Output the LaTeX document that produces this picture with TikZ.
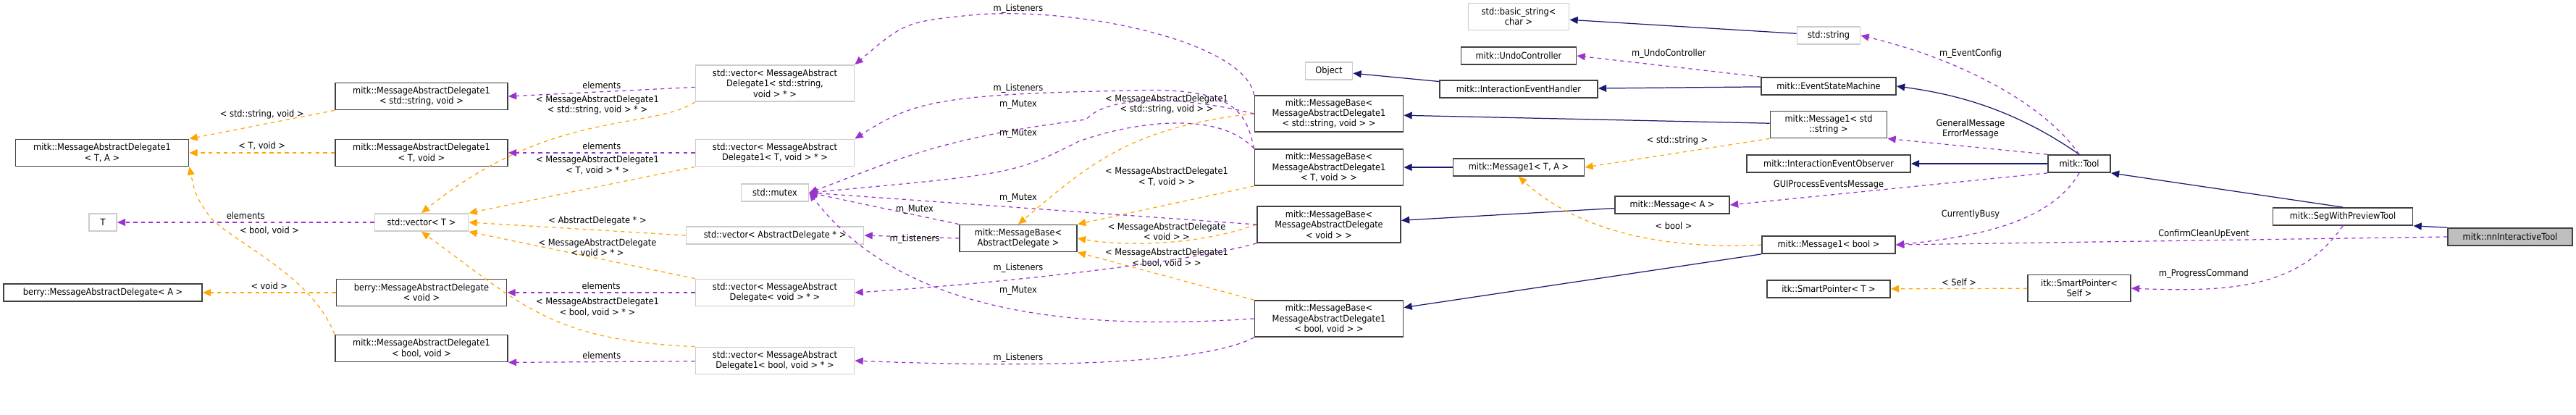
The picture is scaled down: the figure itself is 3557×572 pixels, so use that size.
\documentclass[tikz,border=0pt]{standalone}
\usepackage{fontspec}
\setmainfont{DejaVu Sans Condensed}
\usetikzlibrary{arrows.meta}
\definecolor{inh}{HTML}{191970}
\definecolor{use}{HTML}{9A32CD}
\definecolor{tpl}{HTML}{FFA500}
\tikzset{
  cls/.style={draw=black!75, line width=0.5pt, fill=white, align=center, inner sep=0pt,
    font=\fontsize{3.6}{4.1}\selectfont, minimum height=0.24cm},
  ext/.style={cls, draw=black!20},
  two/.style={minimum height=0.37cm},
  three/.style={minimum height=0.5cm},
  lbl/.style={align=center, inner sep=0pt, text=black, font=\fontsize{3.6}{4.1}\selectfont},
  tip/.style={-{Triangle[length=3.2pt,width=2.8pt]}},
  isa/.style={tip, draw=inh, color=inh, line width=0.35pt},
  has/.style={tip, draw=use, color=use, line width=0.35pt, dash pattern=on 1.5pt off 1.5pt},
  tmpl/.style={tip, draw=tpl, color=tpl, line width=0.35pt, dash pattern=on 1.5pt off 1.5pt},
}
\begin{document}
\begin{tikzpicture}[x=0.01cm, y=0.01cm]
\useasboundingbox (0,0) rectangle (3557,-572);
% left column
\node[cls, two, minimum width=2.39cm] (madTA) at (141,-211) {mitk::MessageAbstractDelegate1\\< T, A >};
\node[ext, minimum width=0.38cm] (T) at (142,-307) {T};
\node[cls, minimum width=2.74cm] (bmadA) at (142,-404) {berry::MessageAbstractDelegate< A >};
\node[cls, two, minimum width=2.38cm] (madStr) at (582,-133) {mitk::MessageAbstractDelegate1\\< std::string, void >};
\node[cls, two, minimum width=2.38cm] (madTv) at (582,-211) {mitk::MessageAbstractDelegate1\\< T, void >};
\node[ext, minimum width=1.29cm] (vecT) at (582,-307) {std::vector< T >};
\node[cls, two, minimum width=2.35cm] (bmadV) at (582,-404) {berry::MessageAbstractDelegate\\< void >};
\node[cls, two, minimum width=2.38cm] (madBool) at (582,-481) {mitk::MessageAbstractDelegate1\\< bool, void >};
% vectors
\node[ext, three, minimum width=2.19cm] (vecStr) at (1070,-115) {std::vector< MessageAbstract\\Delegate1< std::string,\\void > * >};
\node[ext, two, minimum width=2.19cm] (vecTv) at (1070,-211) {std::vector< MessageAbstract\\Delegate1< T, void > * >};
\node[ext, minimum width=0.93cm] (mutex) at (1070,-266) {std::mutex};
\node[ext, minimum width=2.45cm] (vecAD) at (1070,-325) {std::vector< AbstractDelegate * >};
\node[ext, two, minimum width=2.19cm] (vecV) at (1070,-404) {std::vector< MessageAbstract\\Delegate< void > * >};
\node[ext, two, minimum width=2.19cm] (vecBool) at (1070,-498) {std::vector< MessageAbstract\\Delegate1< bool, void > * >};
\node[cls, two, minimum width=1.62cm] (mbAD) at (1406,-329) {mitk::MessageBase<\\AbstractDelegate >};
% message bases
\node[cls, three, minimum width=2.05cm] (mbStr) at (1835,-157) {mitk::MessageBase<\\MessageAbstractDelegate1\\< std::string, void > >};
\node[cls, three, minimum width=2.05cm] (mbTv) at (1835,-231) {mitk::MessageBase<\\MessageAbstractDelegate1\\< T, void > >};
\node[cls, three, minimum width=1.98cm] (mbV) at (1835,-310) {mitk::MessageBase<\\MessageAbstractDelegate\\< void > >};
\node[cls, three, minimum width=2.05cm] (mbBool) at (1835,-440) {mitk::MessageBase<\\MessageAbstractDelegate1\\< bool, void > >};
\node[ext, minimum width=0.65cm] (object) at (1835,-98) {Object};
\node[ext, two, minimum width=1.39cm] (bstr) at (2097,-23) {std::basic\_string<\\char >};
\node[cls, minimum width=1.59cm] (undo) at (2097,-77) {mitk::UndoController};
\node[cls, minimum width=2.18cm] (ieh) at (2097,-123) {mitk::InteractionEventHandler};
\node[cls, minimum width=1.81cm] (msg1TA) at (2097,-231) {mitk::Message1< T, A >};
\node[cls, minimum width=1.58cm] (msgA) at (2309,-283) {mitk::Message< A >};
% right part
\node[ext, minimum width=0.87cm] (string) at (2525,-49) {std::string};
\node[cls, minimum width=1.86cm] (esm) at (2525,-119) {mitk::EventStateMachine};
\node[cls, two, minimum width=1.61cm] (msg1Str) at (2525,-172) {mitk::Message1< std\\::string >};
\node[cls, minimum width=2.26cm] (ieo) at (2525,-226) {mitk::InteractionEventObserver};
\node[cls, minimum width=1.84cm] (msg1Bool) at (2525,-338) {mitk::Message1< bool >};
\node[cls, minimum width=1.70cm] (spT) at (2525,-399) {itk::SmartPointer< T >};
\node[cls, minimum width=0.86cm] (tool) at (2871,-226) {mitk::Tool};
\node[cls, two, minimum width=1.42cm] (spSelf) at (2871,-398) {itk::SmartPointer<\\Self >};
\node[cls, minimum width=1.93cm] (swpt) at (3235,-299) {mitk::SegWithPreviewTool};
\node[cls, fill=black!25, minimum width=1.72cm] (nnit) at (3466,-327) {mitk::nnInteractiveTool};

% inheritance
\draw[isa] (string) -- (bstr);
\draw[isa] (ieh) -- (object);
\draw[isa] (esm) -- (ieh);
\draw[isa] (msg1Str) -- (mbStr);
\draw[isa] (msg1TA) -- (mbTv);
\draw[isa] (msgA) -- (mbV);
\draw[isa] (msg1Bool.south west) -- (mbBool);
\draw[isa] (tool.north) .. controls (2780,-150) and (2700,-130) .. (esm.east);
\draw[isa] (tool) -- (ieo);
\draw[isa] (swpt.north) -- (tool.south east);
\draw[isa] (nnit.north west) -- (swpt.south east);

% templates
\draw[tmpl] (madStr.south west) -- (madTA.north east) node[lbl, pos=0.5, above=2pt] (lA) {< std::string, void >};
\draw[tmpl] (madTv) -- (madTA) node[lbl, midway, above=1pt] (lB) {< T, void >};
\draw[tmpl] (madBool.north west) .. controls (430,-380) and (330,-340) .. (290,-300) .. controls (270,-270) .. (madTA.south east) ;
\node[lbl] (lC) at (372,-318) {< bool, void >};
\draw[tmpl] (bmadV) -- (bmadA) node[lbl, midway, above=1pt] (lD) {< void >};
\draw[tmpl] (vecStr.south west) .. controls (900,-180) and (760,-150) .. (vecT.north);
\draw[tmpl] (vecTv.south west) -- (vecT.north east);
\draw[tmpl] (vecAD.west) -- (vecT.east);
\draw[tmpl] (vecV.north west) -- (vecT.south east);
\draw[tmpl] (vecBool.north west) .. controls (760,-470) and (720,-420) .. (vecT.south);
\node[lbl] (lE) at (825,-145) {< MessageAbstractDelegate1\\< std::string, void > * >};
\node[lbl] (lF) at (825,-228) {< MessageAbstractDelegate1\\< T, void > * >};
\node[lbl] (lG) at (825,-305) {< AbstractDelegate * >};
\node[lbl] (lH) at (825,-342) {< MessageAbstractDelegate\\< void > * >};
\node[lbl] (lI) at (825,-424) {< MessageAbstractDelegate1\\< bool, void > * >};
\draw[tmpl] (mbStr.west) .. controls (1560,-175) and (1500,-230) .. (mbAD.north);
\draw[tmpl] (mbTv.south west) -- (mbAD.north east);
\draw[tmpl] (mbV.west) .. controls (1650,-340) and (1550,-340) .. (mbAD.east);
\draw[tmpl] (mbBool.north west) -- (mbAD.south east);
\node[lbl] (lJ) at (1611,-144) {< MessageAbstractDelegate1\\< std::string, void > >};
\node[lbl] (lK) at (1611,-244) {< MessageAbstractDelegate1\\< T, void > >};
\node[lbl] (lL) at (1611,-320) {< MessageAbstractDelegate\\< void > >};
\node[lbl] (lM) at (1611,-356) {< MessageAbstractDelegate1\\< bool, void > >};
\draw[tmpl] (msg1Str.south west) -- (msg1TA.east) node[lbl, midway, above=3pt] (lN) {< std::string >};
\draw[tmpl] (msg1Bool.west) .. controls (2300,-345) and (2180,-320) .. (msg1TA.south);
\node[lbl] (lO) at (2311,-312) {< bool >};
\draw[tmpl] (spSelf) -- (spT) node[lbl, midway, above=1pt] (lP) {< Self >};

% usage
\draw[has] (vecT) -- (T) node[lbl, midway, above=1pt] (uA) {elements};
\draw[has] (vecStr) -- (madStr.east) node[lbl, midway, above=1pt] (uB) {elements};
\draw[has] (vecTv) -- (madTv) node[lbl, midway, above=1pt] (uC) {elements};
\draw[has] (vecV) -- (bmadV) node[lbl, midway, above=1pt] (uD) {elements};
\draw[has] (vecBool) -- (madBool.south east) node[lbl, midway, above=1pt] (uE) {elements};
\draw[has] (mbStr.north west) .. controls (1720,-60) and (1500,-10) .. (1350,-20) .. controls (1250,-30) .. (vecStr.north east);
\draw[has] (mbTv.north west) .. controls (1720,-150) and (1700,-120) .. (1560,-125) .. controls (1300,-130) and (1260,-140) .. (vecTv.north east);
\draw[has] (mbStr.west) .. controls (1600,-125) and (1520,-140) .. (1500,-165) .. controls (1300,-190) and (1240,-220) .. (mutex.east);
\draw[has] (mbTv.north west) .. controls (1680,-150) and (1560,-170) .. (1490,-195) .. controls (1400,-240) .. (mutex.east);
\draw[has] (mbV.west) -- (mutex.east);
\draw[has] (mbAD.north west) -- (mutex.east);
\draw[has] (mbAD.west) -- (vecAD.east);
\draw[has] (mbV.south west) .. controls (1650,-360) and (1400,-390) .. (vecV.east);
\draw[has] (mbBool.west) .. controls (1500,-455) and (1250,-440) .. (mutex.east);
\draw[has] (mbBool.south west) .. controls (1650,-510) and (1350,-505) .. (vecBool.east);
\node[lbl] (uF) at (1406,-12) {m\_Listeners};
\node[lbl] (uG) at (1406,-122) {m\_Listeners};
\node[lbl] (uH) at (1406,-144) {m\_Mutex};
\node[lbl] (uI) at (1406,-184) {m\_Mutex};
\node[lbl] (uJ) at (1406,-273) {m\_Mutex};
\node[lbl] (uK) at (1263,-289) {m\_Mutex};
\node[lbl] (uL) at (1263,-330) {m\_Listeners};
\node[lbl] (uM) at (1406,-370) {m\_Listeners};
\node[lbl] (uN) at (1406,-401) {m\_Mutex};
\node[lbl] (uO) at (1406,-494) {m\_Listeners};
\draw[has] (esm.north west) -- (undo.east) node[lbl, midway, above=3pt] (uP) {m\_UndoController};
\draw[has] (tool.north) .. controls (2820,-140) and (2700,-80) .. (string.east);
\node[lbl] (uQ) at (2721,-74) {m\_EventConfig};
\draw[has] (tool.north west) -- (msg1Str.south east);
\node[lbl] (uR) at (2721,-178) {GeneralMessage\\ErrorMessage};
\draw[has] (tool.south west) -- (msgA.east);
\node[lbl] (uS) at (2525,-255) {GUIProcessEventsMessage};
\draw[has] (tool.south) .. controls (2830,-310) and (2720,-328) .. (msg1Bool.east);
\node[lbl] (uT) at (2721,-296) {CurrentlyBusy};
\draw[has] (nnit.west) -- (msg1Bool.east);
\node[lbl] (uU) at (3043,-323) {ConfirmCleanUpEvent};
\draw[has] (swpt.south) .. controls (3180,-390) and (3100,-405) .. (spSelf.east);
\node[lbl] (uV) at (3043,-378) {m\_ProgressCommand};
\end{tikzpicture}
\end{document}
